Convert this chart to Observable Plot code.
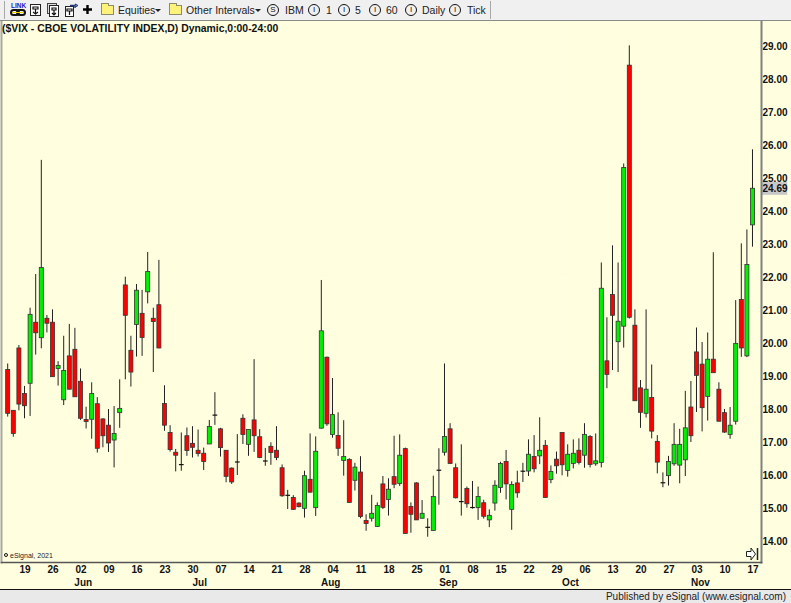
<!DOCTYPE html>
<html>
<head>
<meta charset="utf-8">
<script src="https://cdn.jsdelivr.net/npm/d3@7"></script>
<script src="https://cdn.jsdelivr.net/npm/@observablehq/plot@0.6"></script>
<style>
html,body{margin:0;padding:0;background:#ffffe0;overflow:hidden}
#page{position:relative;width:791px;height:603px;overflow:hidden;font-family:"Liberation Sans",Arial,sans-serif}
#bar{position:relative;height:21px;background:#f0f0f0;border-bottom:1px solid #8a8a8a;box-sizing:border-box}
#bar span.t{position:absolute;top:4px;font:10.5px/13px "Liberation Sans",Arial,sans-serif;color:#222;white-space:nowrap}
#bar .sep{position:absolute;top:1px;width:1px;height:18px;background:#a8a8a8}
#bar .folder{position:absolute;top:5px;width:11px;height:8px;background:#fff27a;border:1px solid #8c8c6a}
#bar .folder:before{content:"";position:absolute;left:-1px;top:-3px;width:6px;height:2px;background:#fff27a;border:1px solid #8c8c6a;border-bottom:0}
#bar .c{position:absolute;top:4px;width:10px;height:10px;border:1px solid #111;border-radius:50%;font:8px/10px "Liberation Sans",sans-serif;text-align:center;color:#111}
#bar svg{position:absolute}
#bar .ar{position:absolute;top:9px;width:0;height:0;border-left:3px solid transparent;border-right:3px solid transparent;border-top:3px solid #222}
#title{position:absolute;left:2px;top:22px;font:bold 10.4px/13px "Liberation Sans",Arial,sans-serif;color:#111;white-space:nowrap}
#copy{position:absolute;left:4px;top:551px;font:7px/9px "Liberation Sans",Arial,sans-serif;color:#222;white-space:nowrap}
#foot{position:absolute;left:0;top:589px;width:791px;height:14px;background:#e9e9e9;border-top:1px solid #111;box-sizing:border-box}
#foot span{position:absolute;right:5px;top:0;font:10px/13px "Liberation Sans",Arial,sans-serif;color:#222;white-space:nowrap}
#arrow{position:absolute;left:746px;top:547px}
#chart svg{display:block}
</style>
</head>
<body>
<div id="page">
<div id="bar">
  <span class="sep" style="left:4px"></span>
  <span class="t" style="left:11px;top:2px;font:bold 6.5px/7px 'Liberation Sans';color:#2222cc">LINK</span>
  <svg style="left:10px;top:9px" width="16" height="8" viewBox="0 0 16 8"><rect x="1" y="1" width="8" height="5" rx="2.5" fill="none" stroke="#111" stroke-width="2"/><rect x="7" y="1" width="8" height="5" rx="2.5" fill="none" stroke="#111" stroke-width="2"/><rect x="2" y="3" width="12" height="1" fill="#e8d000"/></svg>
  <svg style="left:30px;top:4px" width="11" height="12" viewBox="0 0 11 12"><rect x="0.5" y="0.5" width="10" height="11" fill="#fff" stroke="#222"/><path d="M3 3H8V5H3ZM5.5 5V10M3 8L5.5 10L8 8" fill="none" stroke="#111" stroke-width="1.2"/></svg>
  <svg style="left:47px;top:3px" width="12" height="14" viewBox="0 0 12 14"><rect x="0.5" y="0.5" width="9" height="10" fill="#ddd" stroke="#444"/><rect x="2.5" y="2.5" width="9" height="11" fill="#fff" stroke="#222"/><path d="M5 5H9V7H5ZM7 7V12M5 10L7 12L9 10" fill="none" stroke="#111" stroke-width="1.2"/></svg>
  <svg style="left:65px;top:3px" width="13" height="14" viewBox="0 0 13 14"><rect x="0.5" y="3.5" width="8" height="10" fill="#fff" stroke="#222"/><path d="M2 6H7V8H2ZM4.5 8V12" fill="none" stroke="#111" stroke-width="1.2"/><path d="M5 2.5H10V5M10 1L12.5 2.5L10 4" fill="none" stroke="#223a80" stroke-width="1.4"/></svg>
  <svg style="left:83px;top:5px" width="9" height="9" viewBox="0 0 9 9"><path d="M4.5 0V9M0 4.5H9" stroke="#000" stroke-width="2.4"/></svg>
  <span class="folder" style="left:101px"></span>
  <span class="t" style="left:118px">Equities</span>
  <span class="ar" style="left:155px"></span>
  <span class="folder" style="left:169px"></span>
  <span class="t" style="left:186px">Other Intervals</span>
  <span class="ar" style="left:255px"></span>
  <span class="c" style="left:267px">S</span>
  <span class="t" style="left:285px">IBM</span>
  <span class="c" style="left:308px">I</span>
  <span class="t" style="left:326px">1</span>
  <span class="c" style="left:338px">I</span>
  <span class="t" style="left:355px">5</span>
  <span class="c" style="left:369px">I</span>
  <span class="t" style="left:386px">60</span>
  <span class="c" style="left:405px">I</span>
  <span class="t" style="left:422px">Daily</span>
  <span class="c" style="left:449px">I</span>
  <span class="t" style="left:467px">Tick</span>
  <span class="sep" style="left:490px"></span>
</div>
<div id="chart"></div>
<div id="title">($VIX - CBOE VOLATILITY INDEX,D) Dynamic,0:00-24:00</div>
<div id="copy"><span style="display:inline-block;width:2px;height:2px;border:1px solid #111;border-radius:50%;margin-right:2px;vertical-align:1px"></span>eSignal, 2021</div>
<svg id="arrow" width="13" height="14" viewBox="0 0 13 14"><path d="M0.5 4.5H5V1L9.5 7L5 13V9.5H0.5Z" fill="#fff" stroke="#222"/><path d="M11.5 1V13" stroke="#222" stroke-width="1.5"/></svg>
<div id="foot"><span>Published by eSignal (www.esignal.com)</span></div>
</div>
<script>
const highs = [
 19.38,17.97,19.94,18.70,21.07,22.09,25.55,20.85,21.02,19.45,
 20.22,20.58,20.46,19.23,18.07,18.81,18.36,17.72,18.00,18.09,
 18.90,22.01,20.22,21.79,21.61,22.76,21.07,22.52,18.72,17.51,
 16.79,17.29,17.44,17.48,17.38,16.83,17.67,18.51,17.43,16.75,
 16.23,17.24,17.84,17.38,19.51,17.39,16.82,16.99,17.48,16.32,
 15.55,15.39,15.17,16.13,17.26,17.17,21.91,19.59,18.94,17.90,
 17.66,16.51,16.37,16.57,14.81,15.40,15.17,15.97,15.90,17.19,
 17.23,16.83,15.17,15.78,15.24,14.69,15.98,16.81,19.38,17.57,
 16.35,16.93,15.65,15.82,15.65,15.25,14.96,15.84,16.40,16.76,
 15.81,16.13,16.37,17.08,17.21,17.75,17.06,16.29,16.71,17.29,
 16.93,17.08,17.11,17.57,17.21,17.26,22.44,20.78,22.96,22.44,
 25.44,29.02,21.02,18.88,21.02,19.35,17.21,16.08,16.58,17.57,
 17.40,18.55,18.85,20.47,20.03,20.32,22.75,18.81,18.00,18.06,
 21.30,23.02,23.44,25.87];
const lows = [
 17.77,17.16,17.96,17.72,17.79,19.65,19.84,20.32,18.98,18.71,
 18.12,18.60,18.37,17.67,17.41,17.10,16.68,16.84,16.70,16.23,
 17.43,18.90,18.68,19.59,19.61,21.20,19.12,19.84,17.34,16.71,
 16.11,16.13,16.58,16.53,16.56,16.15,16.94,17.52,16.56,15.78,
 15.73,16.00,16.94,16.58,16.70,16.51,16.28,16.31,16.45,15.34,
 14.97,14.94,15.02,14.71,15.47,14.76,17.41,17.49,17.13,16.58,
 15.98,15.17,15.53,14.69,14.31,14.59,14.43,14.97,14.77,15.60,
 15.67,14.23,14.25,14.64,14.69,14.13,14.32,15.10,16.59,16.35,
 15.29,14.77,15.01,14.98,14.64,14.68,14.42,14.92,15.46,15.26,
 14.34,15.31,15.79,15.97,16.08,16.33,15.32,15.75,16.04,15.99,
 15.95,16.20,16.32,16.22,16.23,16.28,16.23,18.63,19.18,19.12,
 19.86,20.74,18.25,17.43,17.74,17.11,16.05,15.63,15.68,16.28,
 15.75,15.97,17.00,17.91,17.32,17.65,19.10,17.63,17.28,17.10,
 17.53,19.58,19.57,22.92];
const opens = [
 19.20,17.96,19.85,18.47,18.78,20.63,20.16,20.75,20.63,19.23,
 18.28,19.61,19.81,18.84,17.68,17.69,18.16,17.70,17.51,17.06,
 17.89,21.76,19.78,20.56,20.90,21.55,20.75,21.16,18.17,17.29,
 16.69,16.33,17.19,16.96,16.75,16.66,16.94,17.83,17.40,16.75,
 16.21,16.41,17.72,16.93,17.67,17.16,16.44,16.87,16.75,16.22,
 15.40,15.32,15.15,14.99,15.87,15.01,17.42,19.57,17.23,17.20,
 16.44,16.47,15.84,16.09,14.62,14.69,14.44,15.73,15.26,15.95,
 15.74,16.80,15.05,15.76,14.69,14.43,14.32,16.16,16.69,17.40,
 16.22,15.21,15.59,15.03,15.01,15.16,14.64,15.15,15.62,16.41,
 14.96,15.76,16.13,16.12,16.56,16.58,16.90,15.86,16.48,17.29,
 16.14,16.35,16.75,16.60,17.17,16.34,16.38,19.46,21.47,20.04,
 20.51,28.42,20.54,18.64,17.87,18.35,17.02,15.78,15.98,16.34,
 16.30,16.46,18.06,19.73,19.36,18.38,19.51,18.60,17.89,17.23,
 17.63,21.32,19.61,23.58];
const closes = [
 17.87,17.26,18.15,18.10,20.87,20.31,22.29,20.60,18.98,19.32,
 19.17,18.60,18.37,17.72,17.62,18.47,16.81,17.19,16.97,17.26,
 18.02,20.84,19.12,21.60,20.17,22.17,20.65,19.85,17.51,16.77,
 16.60,16.33,16.74,16.84,16.65,16.41,17.47,17.83,16.83,15.96,
 15.79,16.41,17.23,17.38,17.19,16.53,16.44,16.68,16.53,15.37,
 15.40,14.96,15.04,15.98,15.48,16.72,20.37,17.55,17.83,16.81,
 16.56,15.17,16.24,14.74,14.53,14.84,15.08,15.02,15.57,15.72,
 16.60,14.23,14.81,14.64,14.84,14.43,15.35,16.16,17.17,16.35,
 15.31,15.21,15.13,15.03,15.35,14.75,14.78,15.69,16.35,15.73,
 15.71,15.46,16.13,16.63,16.19,16.75,15.32,16.11,16.28,16.31,
 16.63,16.66,16.38,17.23,16.32,16.43,21.66,19.05,20.84,20.66,
 25.32,20.78,18.25,17.90,18.60,17.33,16.39,15.78,16.41,16.93,
 16.93,17.43,17.19,19.02,18.04,19.51,19.10,17.63,17.30,17.51,
 19.99,19.85,22.38,24.69];
const weekLabels = ["19","26","02","09","16","23","30","07","14","21","28","04","11","18","25","01","08","15","22","29","06","13","20","27","03","10","17"];
const weekBars = weekLabels.map((_, k) => 3 + 5 * k);
const monthLabels = ["Jun","Jul","Aug","Sep","Oct","Nov"];
const monthBars = [13.4, 34.2, 57.6, 78.6, 100.4, 123.6];
const monthStarts = [12, 33, 56, 77, 99, 122];
const priceTicks = d3.range(14, 30);
const evenPrices = [16, 18, 20, 22, 24, 26, 28];
const lastPrice = 24.69;

const halfBody = 0.36, halfDoji = 0.42;
const bars = highs.map((h, i) => ({i, high: h, low: lows[i], open: opens[i], close: closes[i]}));
const bodies = bars.filter(d => d.open !== d.close);
const dojis = bars.filter(d => d.open === d.close);

const chart = Plot.plot({
  width: 791, height: 569,
  marginLeft: 1, marginRight: 30, marginTop: 0, marginBottom: 28,
  x: {type: "linear", domain: [-1.196, 134.518], axis: null},
  y: {type: "linear", domain: [13.364, 29.758], axis: null},
  style: {background: "#ffffe0", fontFamily: "'Liberation Sans',Arial,sans-serif", fontSize: "10px", fontWeight: "bold", color: "#111", overflow: "visible"},
  marks: [
    Plot.ruleY(evenPrices, {stroke: "#fff", strokeOpacity: 0.6, strokeDasharray: "1,3"}),
    Plot.ruleX(monthStarts, {stroke: "#fff", strokeOpacity: 0.6, strokeDasharray: "1,3"}),
    Plot.rect([lastPrice], {x1: () => 134.6, x2: () => 139.2, y1: d => d - 0.2, y2: d => d + 0.2, fill: "#c8c8c8"}),
    Plot.axisY({anchor: "right", ticks: priceTicks, tickFormat: d => d.toFixed(2), tickSize: 0, tickPadding: 1, label: null}),
    Plot.axisX({anchor: "bottom", ticks: weekBars, tickFormat: d => weekLabels[weekBars.indexOf(d)], tickSize: 0, tickPadding: 3, label: null}),
    Plot.axisX({anchor: "bottom", ticks: monthBars, tickFormat: d => monthLabels[monthBars.indexOf(d)], tickSize: 0, tickPadding: 16, label: null}),
    Plot.text([lastPrice], {x: () => 134.518, y: d => d, text: d => d.toFixed(2), textAnchor: "start", dx: 1, fill: "#111"}),
    Plot.frame({anchor: "left", stroke: "#a8a8a8", strokeWidth: 2}),
    Plot.frame({anchor: "right", stroke: "#808080", strokeWidth: 2}),
    Plot.frame({anchor: "bottom", stroke: "#555", strokeWidth: 1.5}),
    Plot.ruleX(bars, {x: "i", y1: "low", y2: "high", stroke: "#222", strokeWidth: 1, dx: -0.5}),
    Plot.rect(bodies, {
      x1: d => d.i - halfBody, x2: d => d.i + halfBody,
      y1: "open", y2: "close",
      fill: d => d.close > d.open ? "#00f000" : "#ff0000",
      stroke: "#333", strokeWidth: 0.8
    }),
    Plot.ruleY(dojis, {x1: d => d.i - halfDoji, x2: d => d.i + halfDoji, y: "open", stroke: "#111", strokeWidth: 1.2})
  ]
});
document.getElementById("chart").appendChild(chart);
</script>
</body>
</html>
